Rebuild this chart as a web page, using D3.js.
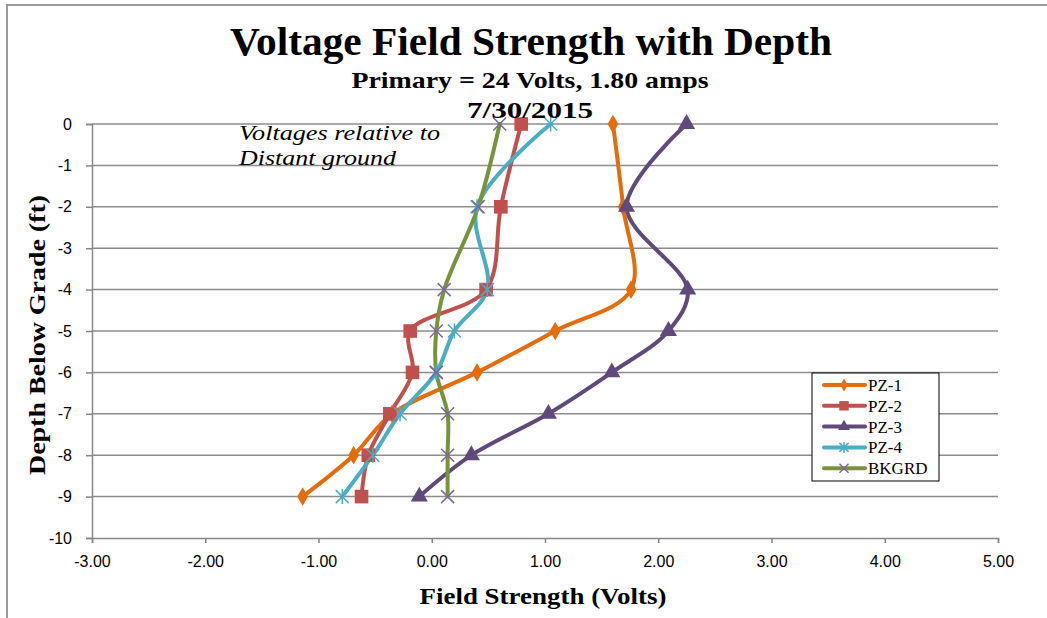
<!DOCTYPE html>
<html>
<head>
<meta charset="utf-8">
<script src="https://cdn.jsdelivr.net/npm/d3@7"></script>
<style>
	body { margin: 0; background: #fff; }
	svg { display: block; }
	.tick-label { font-family: 'Liberation Sans', Arial, sans-serif; font-size: 16px; fill: #000; }
	.serif { font-family: 'Liberation Serif', 'DejaVu Serif', serif; fill: #000; }
</style>
</head>
<body>
<svg width="1047" height="618"></svg>
<script>
const depths = [0, -2, -4, -5, -6, -7, -8, -9];
const pz1 = [1.60, 1.69, 1.76, 1.09, 0.40, -0.35, -0.69, -1.14];
const pz2 = [0.79, 0.61, 0.48, -0.19, -0.17, -0.37, -0.56, -0.62];
const pz3 = [2.25, 1.72, 2.26, 2.09, 1.59, 1.03, 0.35, -0.11];
const pz4 = [1.05, 0.40, 0.49, 0.20, 0.04, -0.28, -0.52, -0.79];
const bkgrd = [0.60, 0.41, 0.11, 0.04, 0.04, 0.14, 0.14, 0.14];

const seriesNames = ['PZ-1', 'PZ-2', 'PZ-3', 'PZ-4', 'BKGRD'];
const lineColors = ['#E46C0A', '#C0504D', '#604A7B', '#4BACC6', '#77933C'];
const markerColors = ['#E46C0A', '#C0504D', '#604A7B', '#4BACC6', '#8064A2'];
const markerTypes = ['diamond', 'square', 'triangle', 'star', 'x'];

const xTicks = [-3, -2, -1, 0, 1, 2, 3, 4, 5];
const yTicks = [0, -1, -2, -3, -4, -5, -6, -7, -8, -9, -10];

const series = [pz1, pz2, pz3, pz4, bkgrd].map((vals, i) => ({
	name: seriesNames[i],
	line: lineColors[i],
	marker: markerColors[i],
	type: markerTypes[i],
	points: vals.map((v, j) => ({ x: v, y: depths[j] }))
}));

const svg = d3.select('svg');

const x = d3.scaleLinear().domain([-3, 5]).range([92, 998]);
const y = d3.scaleLinear().domain([-10, 0]).range([538, 124]);

// plain hyphen for negatives, like the original
const hyphen = (f) => (d) => f(d).replace('\u2212', '-');

// outer chart border (top and left only are visible)
svg.append('path')
	.attr('d', 'M 7 618 L 7 5 L 1047 5')
	.attr('fill', 'none')
	.attr('stroke', '#9a9a9a')
	.attr('stroke-width', 2);

// gridlines
svg.append('g')
	.selectAll('line')
	.data(yTicks.filter((d) => d !== -10))
	.enter()
	.append('line')
	.attr('x1', x(-3))
	.attr('x2', x(5))
	.attr('y1', (d) => y(d))
	.attr('y2', (d) => y(d))
	.attr('stroke', '#8c8c8c')
	.attr('stroke-width', 1.5);

// axes
const xAxis = d3.axisBottom(x)
	.tickValues(xTicks)
	.tickSize(5)
	.tickPadding(13)
	.tickFormat(hyphen(d3.format('.2f')));

const yAxis = d3.axisLeft(y)
	.tickValues(yTicks)
	.tickSize(6)
	.tickPadding(14)
	.tickFormat(hyphen(d3.format('d')));

[svg.append('g').attr('transform', `translate(0 ${y(-10)})`).call(xAxis),
	svg.append('g').attr('transform', `translate(${x(-3)} 0)`).call(yAxis)]
	.forEach((g) => {
		g.select('.domain').attr('stroke', '#868686').attr('stroke-width', 1.5);
		g.selectAll('.tick line').attr('stroke', '#868686').attr('stroke-width', 1.5);
		g.selectAll('.tick text').attr('class', 'tick-label').attr('font-family', null).attr('font-size', null);
	});

// lines
const line = d3.line()
	.x((d) => x(d.x))
	.y((d) => y(d.y))
	.curve(d3.curveCatmullRom.alpha(0.5));

svg.append('g')
	.selectAll('path')
	.data(series)
	.enter()
	.append('path')
	.attr('d', (d) => line(d.points))
	.attr('fill', 'none')
	.attr('stroke', (d) => d.line)
	.attr('stroke-width', 4)
	.attr('stroke-linejoin', 'round')
	.attr('stroke-linecap', 'round');

function markerPath(type, s) {
	if (type === 'diamond') return d3.symbol(d3.symbolDiamond, s * s * 0.6)();
	if (type === 'square') return d3.symbol(d3.symbolSquare, s * s * 1.1)();
	if (type === 'triangle') return d3.symbol(d3.symbolTriangle, s * s * 0.75)();
	const h = s / 2;
	if (type === 'x') return `M ${-h} ${-h} L ${h} ${h} M ${-h} ${h} L ${h} ${-h}`;
	return `M ${-h} ${-h} L ${h} ${h} M ${-h} ${h} L ${h} ${-h} M 0 ${-h - 1} L 0 ${h + 1}`;
}

function drawMarker(g, d, size) {
	const stroked = d.type === 'x' || d.type === 'star';
	g.append('path')
		.attr('d', markerPath(d.type, size))
		.attr('fill', stroked ? 'none' : d.marker)
		.attr('stroke', d.marker)
		.attr('stroke-width', stroked ? 1.5 : 0);
}

series.forEach((s) => {
	svg.append('g')
		.selectAll('g')
		.data(s.points)
		.enter()
		.append('g')
		.attr('transform', (p) => `translate(${x(p.x)} ${y(p.y)})`)
		.each(function () {
			drawMarker(d3.select(this), s, 13);
		});
});

// titles (Cambria in the original is wider than Liberation Serif, so stretch to its width)
function label(txt, px, py, size, width, opts = {}) {
	const t = svg.append('text')
		.attr('class', 'serif')
		.attr('x', px)
		.attr('y', py)
		.attr('text-anchor', opts.anchor || 'middle')
		.attr('font-size', size)
		.attr('font-weight', opts.italic ? 'normal' : 'bold')
		.attr('font-style', opts.italic ? 'italic' : 'normal')
		.attr('textLength', width)
		.attr('lengthAdjust', 'spacingAndGlyphs')
		.text(txt);
	if (opts.rotate) t.attr('transform', `rotate(-90 ${px} ${py})`);
	return t;
}

label('Voltage Field Strength with Depth', 531, 55, 40, 602);
label('Primary = 24 Volts, 1.80 amps', 530, 88, 24, 357);
label('7/30/2015', 530, 118, 24, 126);
label('Field Strength (Volts)', 543, 604, 24, 247);
label('Depth Below Grade (ft)', 45, (y(0) + y(-10)) / 2 + 4, 24, 280, { rotate: true });

// annotation
label('Voltages  relative to', 239, 140, 21, 201, { anchor: 'start', italic: true });
label('Distant ground', 239, 165, 21, 157, { anchor: 'start', italic: true });

// legend
const legend = svg.append('g').attr('transform', 'translate(812 373)');
legend.append('rect')
	.attr('width', 127)
	.attr('height', 108)
	.attr('fill', '#fff')
	.attr('stroke', '#000')
	.attr('stroke-width', 1);

const items = legend.selectAll('.item')
	.data(series)
	.enter()
	.append('g')
	.attr('transform', (d, i) => `translate(0 ${12 + i * 20.8})`);

items.append('line')
	.attr('x1', 12)
	.attr('x2', 53)
	.attr('stroke', (d) => d.line)
	.attr('stroke-width', 4)
	.attr('stroke-linecap', 'round');

items.each(function (d) {
	const g = d3.select(this).append('g').attr('transform', 'translate(32 0)');
	drawMarker(g, d, 9);
});

items.append('text')
	.attr('class', 'serif')
	.attr('x', 56)
	.attr('y', 6)
	.attr('font-size', 17)
	.text((d) => d.name);
</script>
</body>
</html>
